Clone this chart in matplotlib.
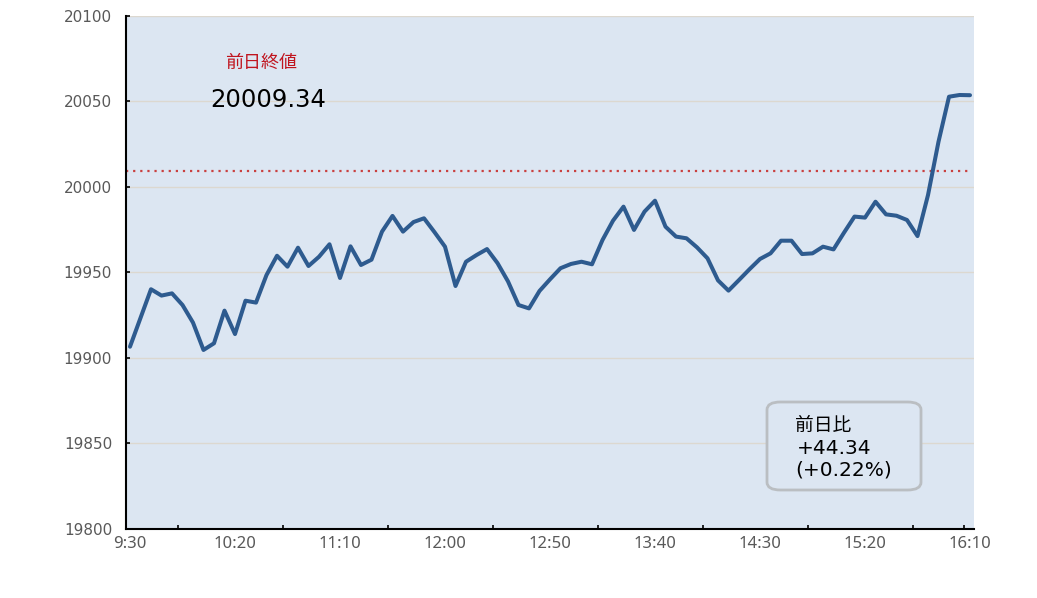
import matplotlib
matplotlib.use("Agg")
import matplotlib.pyplot as plt
from matplotlib.patches import FancyBboxPatch
import numpy as np

plt.rcParams['font.family'] = ['DejaVu Sans', 'Noto Sans CJK JP']

# ---- data ----
times = [f"{(9*60+30+5*i)//60}:{(9*60+30+5*i)%60:02d}" for i in range(81)]
values = [
    19906.6, 19923.4, 19940.2, 19936.5, 19937.8, 19931.0, 19920.7, 19904.7, 19908.6, 19927.7,
    19914.0, 19933.5, 19932.4, 19948.5, 19959.8, 19953.4, 19964.5, 19953.8, 19959.2, 19966.5,
    19946.8, 19965.3, 19954.4, 19957.5, 19973.9, 19983.1, 19973.9, 19979.5, 19981.7, 19973.6,
    19965.1, 19942.1, 19956.3, 19960.2, 19963.7, 19955.5, 19944.8, 19931.0, 19929.0, 19939.2,
    19946.0, 19952.5, 19955.0, 19956.3, 19954.8, 19969.0, 19980.3, 19988.5, 19974.9, 19985.6,
    19992.0, 19976.8, 19971.0, 19970.0, 19964.7, 19958.3, 19945.4, 19939.4, 19945.6, 19951.9,
    19957.9, 19961.2, 19968.6, 19968.6, 19960.8, 19961.2, 19965.1, 19963.5, 19973.3, 19982.7,
    19982.1, 19991.4, 19984.0, 19983.2, 19980.7, 19971.3, 19995.3, 20026.5, 20052.8, 20053.8,
    20053.68,
]
prev_close = 20009.34
change_text = "+44.34"
change_pct_text = "(+0.22%)"
label_times = times[::10]
y_ticks = [19800, 19850, 19900, 19950, 20000, 20050, 20100]

# ---- figure ----
fig = plt.figure(figsize=(10.37, 5.98), dpi=100)
ax = fig.add_axes([126/1037, 69/598, (974-126)/1037, (529-16)/598])
ax.set_facecolor('#DCE6F2')

x = np.arange(len(values))
ax.plot(x, values, color='#2E5B8F', lw=2.9, solid_joinstyle='round', solid_capstyle='round', zorder=3)
ax.axhline(prev_close, xmin=0.0, xmax=0.995, color='#C9403F', lw=1.6,
           linestyle=(0, (1, 2.2)), zorder=2)

ax.set_xlim(-0.38, 80.38)
ax.set_ylim(19800, 20100)
ax.set_yticks(y_ticks)
ax.set_yticklabels([str(v) for v in y_ticks], color='#595959', fontsize=11)
ax.set_xticks(x[::10])
ax.set_xticklabels(label_times, color='#595959', fontsize=12, family=['Noto Sans', 'DejaVu Sans'])
ax.tick_params(axis='x', which='major', length=0, pad=5)
minor = [4.55 + 10*i for i in range(8)] + [79.4]
ax.set_xticks(minor, minor=True)
ax.tick_params(axis='x', which='minor', direction='in', length=3, width=1.2, color='black')
ax.tick_params(axis='y', direction='in', length=3, width=1.2, pad=10)

ax.grid(axis='y', color='#DCD8D0', lw=1.0, zorder=1)
ax.set_axisbelow(True)
for s in ['top', 'right']:
    ax.spines[s].set_visible(False)
for s in ['left', 'bottom']:
    ax.spines[s].set_color('black')
    ax.spines[s].set_linewidth(1.5)

# annotations
fig.text(261/1037, 1-63/598, '前日終値', color='#C0141E', fontsize=13,
         ha='center', va='center')
fig.text(268/1037, 1-100/598, f'{prev_close:.2f}', color='black', fontsize=17.5,
         ha='center', va='center')

box = FancyBboxPatch((767/1037, 1-490/598), (921-767)/1037, (490-402)/598,
                     boxstyle='round,pad=0,rounding_size=0.013',
                     transform=fig.transFigure, facecolor='#DCE6F2',
                     edgecolor='#BABEC2', lw=2.0, zorder=5)
fig.patches.append(box)
fig.text(795/1037, 1-425/598, '前日比', fontsize=13.5, ha='left', va='center', zorder=6)
fig.text(797/1037, 1-449/598, change_text, fontsize=14.5, ha='left', va='center', zorder=6)
fig.text(795/1037, 1-470/598, change_pct_text, fontsize=14.5,
         ha='left', va='center', zorder=6)

fig.savefig('out.png', dpi=100)
